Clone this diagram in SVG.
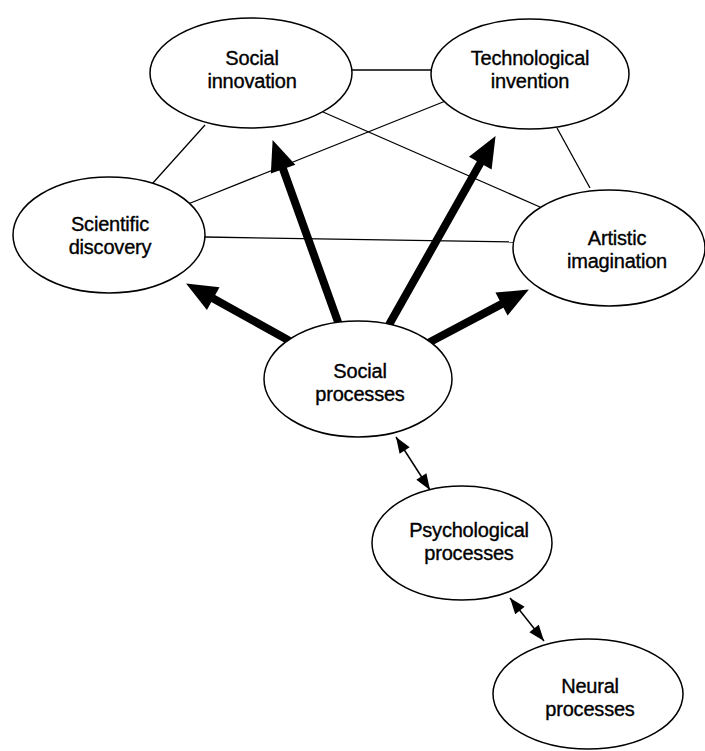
<svg xmlns="http://www.w3.org/2000/svg" width="705" height="751" viewBox="0 0 705 751">
<style>
  .node ellipse { fill: #fff; stroke: #000; stroke-width: 1.5; }
  .node text { font-family: "Liberation Sans", Arial, sans-serif; font-size: 20px; fill: #000; stroke: #000; stroke-width: 0.35; text-anchor: middle; letter-spacing: -0.2px; }
  .thin { stroke: #000; stroke-width: 1.3; fill: none; }
  .thick { stroke: #000; stroke-width: 8; stroke-linecap: round; fill: none; marker-end: url(#bigHead); }
  .dbl { stroke: #000; stroke-width: 1.5; fill: none; marker-start: url(#smallHead); marker-end: url(#smallHead); }
</style>
<defs>
  <marker id="bigHead" markerUnits="userSpaceOnUse" orient="auto" refX="0" refY="0" markerWidth="32" markerHeight="28" overflow="visible">
    <path d="M0,-13 L31,0 L0,13 Z" fill="#000"/>
  </marker>
  <marker id="smallHead" markerUnits="userSpaceOnUse" orient="auto-start-reverse" refX="0" refY="0" markerWidth="16" markerHeight="12" overflow="visible">
    <path d="M0,0 L-16,-6 L-16,6 Z" fill="#000"/>
  </marker>
</defs>
<g id="connectors">
  <line class="thin" x1="352" y1="70" x2="431" y2="70"/>
  <line class="thin" x1="205" y1="125" x2="152" y2="184"/>
  <line class="thin" x1="557" y1="128" x2="590" y2="188"/>
  <line class="thin" x1="323" y1="112" x2="540" y2="207"/>
  <line class="thin" x1="188" y1="204" x2="448" y2="100"/>
  <line class="thin" x1="205" y1="237" x2="513" y2="242"/>
  <line class="thick" x1="288" y1="340" x2="213.2" y2="298.6"/>
  <line class="thick" x1="338" y1="322" x2="283.1" y2="169.2"/>
  <line class="thick" x1="390" y1="323" x2="480.3" y2="163.1"/>
  <line class="thick" x1="430" y1="342" x2="501.5" y2="304.1"/>
  <line class="dbl" x1="396" y1="437" x2="430" y2="490"/>
  <line class="dbl" x1="510" y1="598" x2="544" y2="641"/>
</g>
<g id="social-innovation" class="node">
  <ellipse cx="251" cy="73" rx="101" ry="55"/>
  <text x="252" y="65">Social</text>
  <text x="252" y="88">innovation</text>
</g>
<g id="technological-invention" class="node">
  <ellipse cx="530" cy="74" rx="99" ry="55"/>
  <text x="530" y="65">Technological</text>
  <text x="530" y="88">invention</text>
</g>
<g id="scientific-discovery" class="node">
  <ellipse cx="109" cy="235" rx="96" ry="58"/>
  <text x="110" y="231">Scientific</text>
  <text x="110" y="254">discovery</text>
</g>
<g id="artistic-imagination" class="node">
  <ellipse cx="609" cy="248" rx="96" ry="58"/>
  <text x="617" y="245">Artistic</text>
  <text x="617" y="268">imagination</text>
</g>
<g id="social-processes" class="node">
  <ellipse cx="358" cy="379" rx="94" ry="58"/>
  <text x="360" y="378">Social</text>
  <text x="360" y="401">processes</text>
</g>
<g id="psychological-processes" class="node">
  <ellipse cx="462" cy="543" rx="90" ry="57"/>
  <text x="469" y="537">Psychological</text>
  <text x="469" y="560">processes</text>
</g>
<g id="neural-processes" class="node">
  <ellipse cx="588" cy="694" rx="95" ry="55"/>
  <text x="590" y="693">Neural</text>
  <text x="590" y="716">processes</text>
</g>
</svg>
